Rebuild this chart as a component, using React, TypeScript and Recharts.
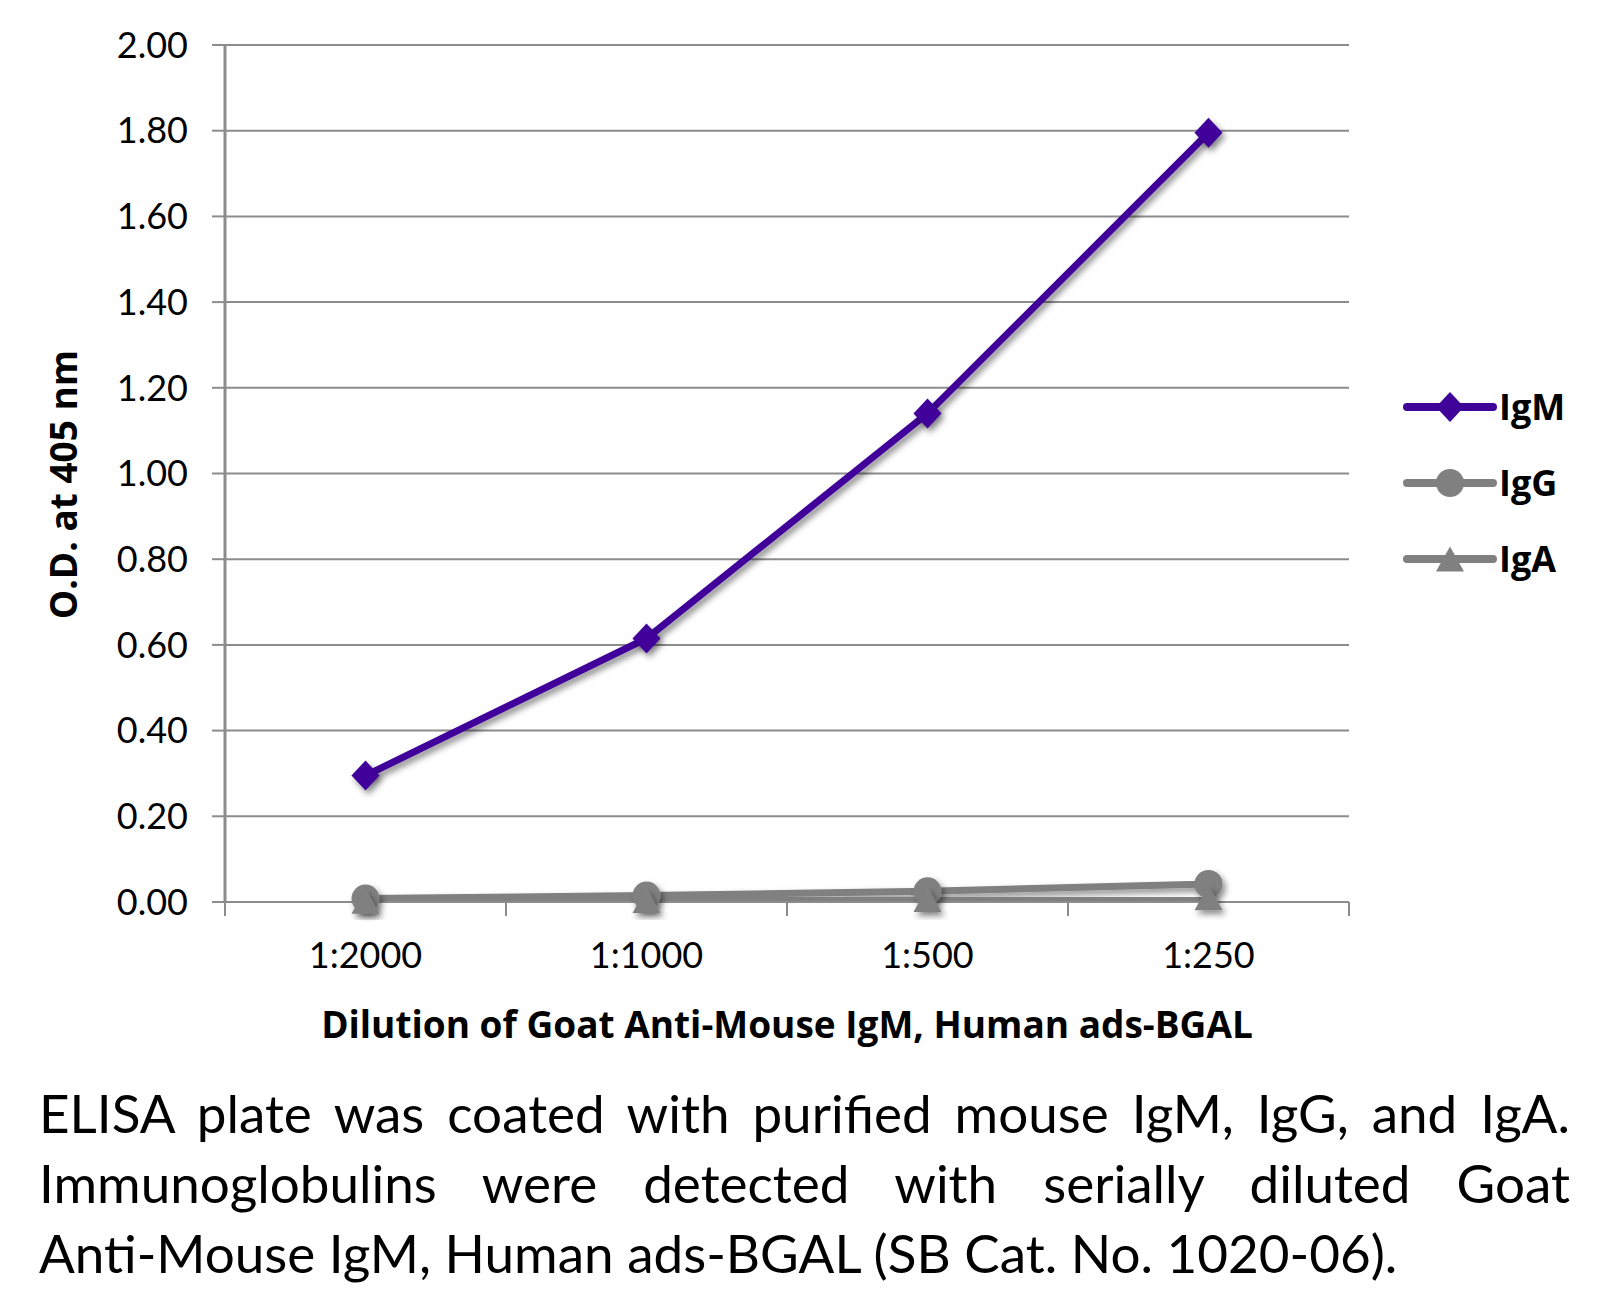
import React from 'react';
import { LineChart, Line, XAxis, YAxis, CartesianGrid, Legend } from 'recharts';

const dilutions = ['1:2000', '1:1000', '1:500', '1:250'];
const igmValues = [0.295, 0.615, 1.14, 1.795];
const iggValues = [0.008, 0.015, 0.025, 0.042];
const igaValues = [0.002, 0.004, 0.006, 0.01];
const yTicks = [0, 0.2, 0.4, 0.6, 0.8, 1.0, 1.2, 1.4, 1.6, 1.8, 2.0];
// tick positions on the x axis: whole numbers are the separators, halves are the labels
const xTicks = [0, 0.5, 1, 1.5, 2, 2.5, 3, 3.5, 4];
const seriesOrder = ['igm', 'igg', 'iga'];

const PURPLE = '#3f0399';
const GRAY = '#808080';
const GRID = '#8c8c8c';
const X_TICK_MARGIN = 40;

// one row per dilution, sitting in the middle of its slot
const chartData = dilutions.map((d, i) => ({
  pos: i + 0.5,
  dilution: d,
  igm: igmValues[i],
  igg: iggValues[i],
  iga: igaValues[i],
}));

const Diamond = ({ cx, cy, fill, size = 15 }: any) => {
  if (cx == null || cy == null) return null;
  return (
    <path
      d={`M${cx},${cy - size} L${cx + size - 1},${cy} L${cx},${cy + size} L${cx - size + 1},${cy} Z`}
      fill={fill}
    />
  );
};

const Circle = ({ cx, cy, fill, r = 14 }: any) => {
  if (cx == null || cy == null) return null;
  return <circle cx={cx} cy={cy} r={r} fill={fill} />;
};

const Triangle = ({ cx, cy, fill, size = 28 }: any) => {
  if (cx == null || cy == null) return null;
  const h = size * 0.9;
  return (
    <path
      d={`M${cx},${cy - h / 2} L${cx + size / 2},${cy + h / 2} L${cx - size / 2},${cy + h / 2} Z`}
      fill={fill}
    />
  );
};

const markerFor: Record<string, (p: any) => React.ReactNode> = {
  igm: (p) => <Diamond {...p} />,
  igg: (p) => <Circle {...p} />,
  iga: (p) => <Triangle {...p} />,
};

const DilutionTick = ({ x, y, payload }: any) => {
  const v = payload.value;
  const axisY = y - X_TICK_MARGIN;
  if (Number.isInteger(v)) {
    return <line x1={x} x2={x} y1={axisY} y2={axisY + 14} stroke={GRID} strokeWidth={2} />;
  }
  return (
    <text x={x} y={y} dy="0.72em" textAnchor="middle" fontFamily="Lato" fontSize={36} fill="#000">
      {dilutions[Math.floor(v)]}
    </text>
  );
};

const YTitle = ({ viewBox }: any) => {
  const x = viewBox.x + 77;
  const y = viewBox.y + viewBox.height / 2 + 11;
  return (
    <text
      x={x}
      y={y}
      transform={`rotate(-90, ${x}, ${y})`}
      textAnchor="middle"
      fontFamily="Open Sans"
      fontWeight={700}
      fontSize={37}
      fill="#000"
    >
      O.D. at 405 nm
    </text>
  );
};

const LegendContent = ({ payload }: any) => (
  <div>
    {(payload || []).map((entry: any) => (
      <div key={entry.dataKey} style={{ display: 'flex', alignItems: 'center', height: 76 }}>
        <svg width={96} height={40}>
          <line x1={5} x2={91} y1={20} y2={20} stroke={entry.color} strokeWidth={8} strokeLinecap="round" />
          {markerFor[entry.dataKey]({ cx: 48, cy: 20, fill: entry.color })}
        </svg>
        <span
          style={{
            fontFamily: 'Open Sans',
            fontWeight: 700,
            fontSize: 36,
            color: '#000',
            marginLeft: 1,
            lineHeight: '40px',
          }}
        >
          {entry.value}
        </span>
      </div>
    ))}
  </div>
);

export default function App() {
  return (
    <div
      style={{
        position: 'absolute',
        left: 0,
        top: 0,
        width: 1617,
        height: 1306,
        background: '#fff',
        overflow: 'hidden',
      }}
    >
      <style>{`.recharts-line-curve, .recharts-line-dots { filter: url(#lineShadow); }`}</style>
      <svg width={0} height={0} style={{ position: 'absolute' }}>
        <defs>
          <filter id="lineShadow" x="-20%" y="-20%" width="140%" height="140%">
            <feDropShadow dx={3} dy={4} stdDeviation={3} floodColor="#000" floodOpacity={0.45} />
          </filter>
        </defs>
      </svg>
      <div style={{ position: 'absolute', left: 0, top: 0 }}>
        <LineChart
          width={1617}
          height={1062}
          data={chartData}
          margin={{ top: 45, right: 268, left: 0, bottom: 0 }}
        >
          <CartesianGrid vertical={false} stroke={GRID} strokeWidth={2} />
          <XAxis
            dataKey="pos"
            type="number"
            domain={[0, 4]}
            ticks={xTicks}
            interval={0}
            height={160}
            tickLine={false}
            tickSize={0}
            tickMargin={X_TICK_MARGIN}
            axisLine={{ stroke: GRID, strokeWidth: 2 }}
            tick={<DilutionTick />}
            label={{
              value: 'Dilution of Goat Anti-Mouse IgM, Human ads-BGAL',
              position: 'insideBottom',
              offset: 24,
              fontFamily: 'Open Sans',
              fontWeight: 700,
              fontSize: 37,
              fill: '#000',
            }}
          />
          <YAxis
            domain={[0, 2]}
            ticks={yTicks}
            interval={0}
            width={225}
            tickSize={13}
            tickMargin={24}
            tickFormatter={(v: number) => v.toFixed(2)}
            tick={{ fontFamily: 'Lato', fontSize: 36, fill: '#000' }}
            tickLine={{ stroke: GRID, strokeWidth: 2 }}
            axisLine={{ stroke: GRID, strokeWidth: 3 }}
            label={{ content: <YTitle /> }}
          />
          <Legend
            layout="vertical"
            itemSorter={(item: any) => seriesOrder.indexOf(item.dataKey)}
            content={<LegendContent />}
            wrapperStyle={{
              position: 'absolute',
              left: 1402,
              top: 369,
              width: 215,
              height: 0,
              overflow: 'visible',
            }}
          />
          <Line
            dataKey="igm"
            name="IgM"
            stroke={PURPLE}
            strokeWidth={7}
            dot={(p: any) => <Diamond key={`igm-${p.index}`} cx={p.cx} cy={p.cy} fill={PURPLE} />}
            activeDot={false}
            isAnimationActive={false}
          />
          <Line
            dataKey="igg"
            name="IgG"
            stroke={GRAY}
            strokeWidth={7}
            dot={(p: any) => <Circle key={`igg-${p.index}`} cx={p.cx} cy={p.cy} fill={GRAY} />}
            activeDot={false}
            isAnimationActive={false}
          />
          <Line
            dataKey="iga"
            name="IgA"
            stroke={GRAY}
            strokeWidth={7}
            dot={(p: any) => <Triangle key={`iga-${p.index}`} cx={p.cx} cy={p.cy} fill={GRAY} />}
            activeDot={false}
            isAnimationActive={false}
          />
        </LineChart>
      </div>
      <div
        style={{
          position: 'absolute',
          left: 39,
          top: 1078,
          width: 1531,
          fontFamily: 'Lato',
          fontSize: 53,
          lineHeight: '70px',
          color: '#000',
        }}
      >
        <div style={{ textAlign: 'justify', textAlignLast: 'justify', whiteSpace: 'nowrap' }}>
          ELISA plate was coated with purified mouse IgM, IgG, and IgA.
        </div>
        <div style={{ textAlign: 'justify', textAlignLast: 'justify', whiteSpace: 'nowrap' }}>
          Immunoglobulins were detected with serially diluted Goat
        </div>
        <div style={{ whiteSpace: 'nowrap' }}>
          Anti-Mouse IgM, Human ads-BGAL (SB Cat. No. 1020-06).
        </div>
      </div>
    </div>
  );
}
